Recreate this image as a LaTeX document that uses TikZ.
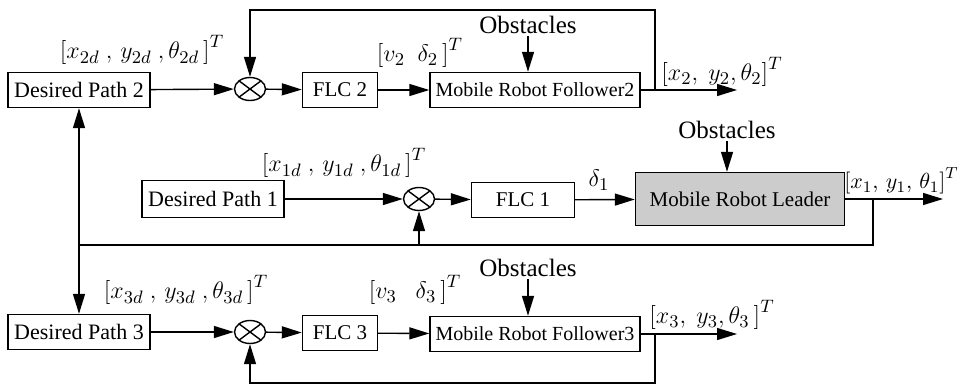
\documentclass[tikz,border=0pt]{standalone}
\usepackage{fontspec}
\setmainfont{Liberation Serif}
\usetikzlibrary{arrows.meta,shapes.geometric}

\tikzset{
  block/.style={draw, line width=0.7pt, inner sep=0pt, minimum height=17.5pt, font=\fontsize{10.5}{12}\selectfont},
  leader/.style={block, fill=black!20, minimum height=26.5pt},
  sumnode/.style={draw, ellipse, line width=0.7pt, minimum width=15.5pt, minimum height=11.5pt, inner sep=0pt,
    path picture={\draw[line width=0.7pt] (path picture bounding box.north west) -- (path picture bounding box.south east)
      (path picture bounding box.north east) -- (path picture bounding box.south west);}},
  obst/.style={inner sep=1pt, font=\fontsize{12.5}{14}\selectfont},
  vec/.style={inner sep=0pt, font=\fontsize{12.5}{14}\selectfont},
  arr/.style={line width=0.7pt, -{Triangle[length=10pt,width=6pt]}},
  wire/.style={line width=0.7pt}
}

\begin{document}
\begin{tikzpicture}[x=0.5pt, y=-0.5pt]
  \useasboundingbox (0,0) rectangle (961,385);

  % follower 2 row
  \node[block, minimum width=71pt, font=\fontsize{11}{13}\selectfont] (dp2) at (79,90) {Desired Path 2};
  \node[sumnode] (s2) at (250,89) {};
  \node[block, minimum width=37.5pt] (flc2) at (340,90) {FLC 2};
  \node[block, minimum width=105pt, font=\fontsize{10}{12}\selectfont] (f2) at (535,90) {Mobile Robot Follower2};
  \node[obst] (ob2) at (528,25) {Obstacles};
  \coordinate (b2) at (655,90);
  \coordinate (o2) at (737,90);
  \node[vec] (r2) at (142,50) {$\left[x_{2d}\ ,\,y_{2d}\ ,\theta_{2d}\,\right]^T$};
  \node[vec] (u2) at (420,53) {$\left[v_{2}\ \ \delta_{2}\,\right]^T$};
  \node[vec] (p2) at (722,72) {$\left[x_{2}, \ y_{2}, \theta_{2}\right]^T$};

  % leader row
  \node[block, minimum width=71pt, minimum height=18.5pt, font=\fontsize{11}{13}\selectfont] (dp1) at (213,199) {Desired Path 1};
  \node[sumnode] (s1) at (419,199) {};
  \node[block, minimum width=51.5pt] (flc1) at (523,200) {FLC 1};
  \node[leader, minimum width=104.5pt] (lead) at (740,199) {Mobile Robot Leader};
  \node[obst] (ob1) at (727,130) {Obstacles};
  \coordinate (b1) at (873,199);
  \coordinate (o1) at (943,199);
  \coordinate (j) at (79,245);
  \node[vec] (r1) at (344,163) {$\left[x_{1d}\ ,\,y_{1d}\ ,\theta_{1d}\,\right]^T$};
  \node[vec] (d1) at (599,180) {$\delta_{1}$};
  \node[vec, anchor=east, font=\fontsize{11}{13}\selectfont] (p1) at (959,181) {$\left[x_{1},\,y_{1},\,\theta_{1}\right]^T$};

  % follower 3 row
  \node[block, minimum width=71pt, font=\fontsize{11}{13}\selectfont] (dp3) at (79,332) {Desired Path 3};
  \node[sumnode] (s3) at (250,332) {};
  \node[block, minimum width=37.5pt] (flc3) at (340,333) {FLC 3};
  \node[block, minimum width=105pt, font=\fontsize{10}{12}\selectfont] (f3) at (535,334) {Mobile Robot Follower3};
  \node[obst] (ob3) at (528,268) {Obstacles};
  \coordinate (b3) at (655,334);
  \coordinate (o3) at (737,334);
  \node[vec] (r3) at (186,290) {$\left[x_{3d}\ ,\,y_{3d}\ ,\theta_{3d}\,\right]^T$};
  \node[vec] (u3) at (415,290) {$\left[v_{3}\ \ \ \delta_{3}\,\right]^T$};
  \node[vec] (p3) at (712,315) {$\left[x_{3},\ y_{3}, \theta_{3}\,\right]^T$};

  % signal flow
  \draw[arr] (dp2) -- (s2);
  \draw[arr] (s2) -- (flc2);
  \draw[arr] (flc2) -- (f2);
  \draw[arr] (f2) -- (o2);
  \draw[arr] (b2) -- ++(0,-80) -| (s2);
  \draw[arr] (ob2) -- (ob2 |- f2.north);

  \draw[arr] (dp1) -- (s1);
  \draw[arr] (s1) -- (flc1);
  \draw[arr] (flc1) -- (lead);
  \draw[arr] (lead) -- (o1);
  \draw[arr] (ob1) -- (ob1 |- lead.north);
  \draw[wire] (b1) |- (j);
  \draw[arr] (s1 |- j) -- (s1);
  \draw[arr] (j) -- (dp2);
  \draw[arr] (j) -- (dp3);

  \draw[arr] (dp3) -- (s3);
  \draw[arr] (s3) -- (flc3);
  \draw[arr] (flc3) -- (f3);
  \draw[arr] (f3) -- (o3);
  \draw[arr] (b3) -- ++(0,49) -| (s3);
  \draw[arr] (ob3) -- (ob3 |- f3.north);
\end{tikzpicture}
\end{document}
